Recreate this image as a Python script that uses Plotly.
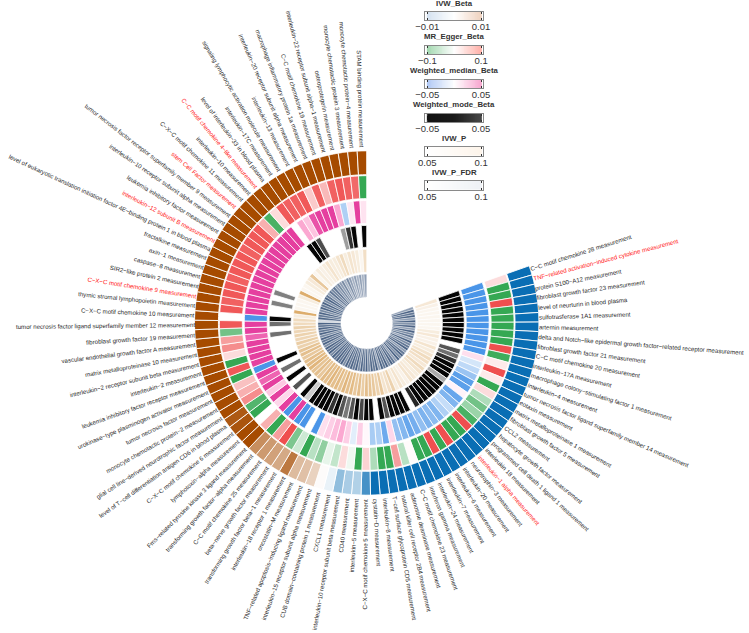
import math
import numpy as np
import plotly.graph_objects as go

W, H = 749, 633
CX, CY = 365, 323
N_ = None

labels = [
"C−C motif chemokine 28 measurement","TNF−related activation−induced cytokine measurement","protein S100−A12 measurement",
"fibroblast growth factor 23 measurement","level of neurturin in blood plasma","sulfotrasferase 1A1 measurement","artemin measurement",
"delta and Notch−like epidermal growth factor−related receptor measurement","fibroblast growth factor 21 measurement",
"C−C motif chemokine 20 measurement","interleukin−17A measurement","macrophage colony−stimulating factor 1 measurement",
"interleukin−4 measurement","tumor necrosis factor ligand superfamily member 14 measurement","eotaxin measurement",
"matrix metalloproteinase 1 measurement","fibroblast growth factor 5 measurement","CCL2 measurement","hepatocyte growth factor measurement",
"programmed cell death 1 ligand 1 measurement","interleukin 18 measurement","interleukin−1 alpha measurement","neurotrophin−3 measurement",
"interleukin−20 measurement","interleukin−6 measurement","interleukin−7 measurement","interleukin−24 measurement","interferon gamma measurement",
"C−C motif chemokine 23 measurement","adenosine deaminase measurement","natural killer cell receptor 2B4 measurement",
"T−cell surface glycoprotein CD5 measurement","interleukin−8 measurement","cystatin−D measurement","C−X−C motif chemokine 5 measurement",
"interleukin−5 measurement","CD40 measurement","interleukin−10 receptor subunit beta measurement","CXCL1 measurement",
"CUB domain−containing protein 1 measurement","interleukin−15 receptor subunit alpha measurement","TNF−related apoptosis−inducing ligand measurement",
"oncostatin−M measurement","interleukin−18 receptor 1 measurement","transforming growth factor beta−1 measurement","beta−nerve growth factor measurement",
"C−C motif chemokine 25 measurement","transforming growth factor−alpha measurement","Fms−related tyrosine kinase 3 ligand measurement",
"lymphotoxin−alpha measurement","C−X−C motif chemokine 6 measurement","level of T−cell differentiation antigen CD6 in blood plasma",
"glial cell line−derived neurotrophic factor measurement","monocyte chemotactic protein−2 measurement","tumor necrosis factor measurement",
"urokinase−type plasminogen activator measurement","leukemia inhibitory factor receptor measurement","interleukin−2 measurement",
"interleukin−2 receptor subunit beta measurement","matrix metalloproteinase 10 measurement","vascular endothelial growth factor A measurement",
"fibroblast growth factor 19 measurement","tumor necrosis factor ligand superfamily member 12 measurement","C−X−C motif chemokine 10 measurement",
"thymic stromal lymphopoietin measurement","C−X−C motif chemokine 9 measurement","SIR2−like protein 2 measurement","caspase−8 measurement",
"axin−1 measurement","fractalkine measurement","level of eukaryotic translation initiation factor 4E−binding protein 1 in blood plasma",
"interleukin−12 subunit B measurement","leukemia inhibitory factor measurement","interleukin−10 receptor subunit alpha measurement",
"tumor necrosis factor receptor superfamily member 9 measurement","stem Cell Factor measurement","C−X−C motif chemokine 11 measurement",
"interleukin−10 measurement","C−C motif chemokine 4−like measurement","level of interleukin−33 in blood plasma","interleukin−17C measurement",
"signaling lymphocytic activation molecule measurement","interleukin−13 measurement","interleukin−20 receptor subunit alpha measurement",
"macrophage inflammatory protein 1a measurement","C−C motif chemokine 19 measurement","interleukin−22 receptor subunit alpha−1 measurement",
"osteoprotegerin measurement","monocyte chemotactic protein 3 measurement","monocyte chemotactic protein−4 measurement","STAM binding protein measurement",
]
highlighted = [2, 22, 66, 72, 76, 79]

ivw_beta = [-.01]*34 + [-.0075,-.0032,-.0035,-.0045,-.0009,.0002,.0025,.0035,.0038,.0075,.0048,.0052,.0056,.0063] + [.01,.01,.0095,.0092] + [.01]*39

egger_beta = [.02,-.1,-.1,.1,-.1,-.1,-.1,-.1,-.1,.1,-.095,.012,.1,.012,-.1,.02,-.04,-.07,-.05,-.09,
 .1,-.1,-.1,.1,-.1,.1,-.1,-.1,.002,-.035,.055,-.1,-.1,-.04,.025,-.1,-.008,.02,-.03,-.012,
 -.055,-.035,-.1,-.025,-.065,.1,.055,-.1,.045,N_,-.1,-.085,.065,.045,.035,-.1,.095,-.1,.02,.065,
 .055,-.07,.095,N_,.095,.09,.095,.095,.09,.095,.095,.095,.09,.095,.095,.095,.045,-.09,.02,.095,
 .09,.09,.095,.03,.09,.04,.09,.095,.09,.085,-.1]

median_beta = [-.05]*11 + [.008,-.012,-.018,-.028,-.045,-.045,.003,-.042,-.035,-.016,-.022,-.035,-.032,-.036,-.03,-.038,-.042,-.034,-.03,
 .01,-.04,-.022,-.024,.002,.012,-.008,.012,.022,.017,.012,.008,-.05,N_,-.05,-.05,.05,-.05,.05,.01,
 .05,.014,.05,.04,.05,-.05,.05,.05,.05,.05,.04,.05,.05,-.05,.05,.05,.05,.05,.05,.05,
 .05,.05,.05,.05,.05,.05,.05,.05,.05,N_,.022,.015,.045,.05,.05,.05,.022,-.022,.006,.05,.007]

mode_beta = [-.048]*10 + [N_,-.017,-.006,-.03,-.048,-.048,-.048,.017,-.048,-.048,-.048,-.048,-.048,-.048,-.035,N_,-.048,-.048,-.048,-.048,
 -.017,-.048,N_,-.048,-.048,-.023,-.048,-.017,-.003,-.017,-.048,-.03,-.048,-.048,-.048,-.048,.03,-.048,N_,-.017,
 N_,-.048,N_,-.006,N_,-.048,N_,N_,N_,N_,-.006,N_,-.007,-.048,N_,N_,-.0,N_,-.0,N_,
 N_,N_,N_,N_,N_,N_,N_,N_,N_,-.048,-.048,-.02,N_,N_,N_,N_,.012,-.03,-.048,N_,-.048]

p_ivw = [.0625,.0575,.055,.055,.055,.055,.055,.055,.06,.0625,.0575,.0575,.065,.06,.065,.07,.0675,.0625,.07,.065,
 .06,.0625,.065,.0575,.06,.065,.06,.075,.0675,.065,.08,.075,.08,.0825,.085,.0775,.085,.08,.0875,.085,
 .09,.0825,.0875,.085,.09,.085,.0875,.08,.085,.0825,.09,.0875,.085,.08,.085,.0825,.075,.0775,.0725,.075,
 .0725,.075,.07,.07,.06,.095,.055,.055,.055,.06,.095,.055,.055,.06,.0625,.08,.055,.06,.0575,.06,
 .065,.06,.06,.065,.07,.06,.065,.0625,.06,.055,.0675]

p_fdr = [.075,.09,.085,.09,.075,.09,.08,.09,.075,.09,.08,.085,.075,.09,.08,.085,.09,.075,.085,.09,
 .08,.09,.075,.085,.09,.08,.09,.085,.09,.075,.09,.085,.09,.08,.09,.085,.09,.08,.09,.085,
 .09,.085,.09,.08,.09,.085,.09,.085,.09,.08,.09,.085,.09,.08,.09,.085,.09,.08,.09,.085,
 .09,.085,.09,.06,.09,.085,.09,.08,.09,.085,.09,.08,.09,.085,.075,.085,.08,.085,.075,.08,
 .075,.08,.07,.08,.075,.07,.075,.07,.075,.07,.075]

legend_names = ["IVW_Beta","MR_Egger_Beta","Weighted_median_Beta","Weighted_mode_Beta","IVW_P","IVW_P_FDR"]
legend_low = [-.01,-.1,-.05,-.05,.05,.05]
legend_high = [.01,.1,.05,.05,.1,.1]
legend_low_text = ["−0.01","−0.1","−0.05","−0.05","0.05","0.05"]
legend_high_text = ["0.01","0.1","0.05","0.05","0.1","0.1"]
legend_scales = [
 [[0,"#d5e2f1"],[.5,"#ffffff"],[1,"#efd2bf"]],
 [[0,"#a3d8b0"],[.5,"#ffffff"],[1,"#ffb0a8"]],
 [[0,"#b1c9f5"],[.5,"#ffffff"],[1,"#f8a6cf"]],
 [[0,"#111111"],[.5,"#1a1a1a"],[1,"#484848"]],
 [[0,"#ffffff"],[1,"#fdf4ea"]],
 [[0,"#ffffff"],[1,"#eef1f5"]],
]

rings = [
 (ivw_beta, 149, 173, -.01, .01, [[0,"#0a6eb4"],[.5,"#ffffff"],[1,"#a64b00"]], .9),
 (egger_beta, 125, 148, -.1, .1, [[0,"#35a853"],[.5,"#ffffff"],[1,"#ef4f4f"]], .8),
 (median_beta, 100, 123, -.05, .05, [[0,"#4a95e8"],[.5,"#ffffff"],[.75,"#fb9ccb"],[1,"#e53f9f"]], .8),
 (mode_beta, 76, 98, -.05, .05, [[0,"#000000"],[1,"#ffffff"]], .8),
 (p_ivw, 51, 74, .05, .1, [[0,"#ffffff"],[1,"#d9a45c"]], .6),
 (p_fdr, 26, 49, .05, .1, [[0,"#ffffff"],[1,"#1f3d68"]], .35),
]

n = len(labels)
START = 70.6
STEP = (360 - START) / n
theta = [START + (i + .5) * STEP for i in range(n)]

fig = go.Figure()
for vals, r0, r1, lo, hi, scale, lw in rings:
    keep = [i for i, v in enumerate(vals) if v is not None]
    fig.add_trace(go.Barpolar(
        theta=[theta[i] for i in keep], r=[r1 - r0] * len(keep), base=r0, width=STEP,
        marker=dict(color=[vals[i] for i in keep], colorscale=scale, cmin=lo, cmax=hi, showscale=False,
                    line=dict(color="#ffffff", width=lw)),
        hoverinfo="skip", showlegend=False))

annotations = []
FS = 6.1
TH = 7.0
RT = 176
for i, (t, lab) in enumerate(zip(theta, labels)):
    rad = math.radians(t)
    sx, sy = CX + RT * math.sin(rad), CY - RT * math.cos(rad)
    if t < 180:
        a = t - 90
        xa = "left"
        x = sx - TH / 2 * abs(math.sin(math.radians(a)))
        if a >= 0:
            ya, y = "top", sy - TH / 2 * math.cos(math.radians(a))
        else:
            ya, y = "bottom", sy + TH / 2 * math.cos(math.radians(a))
    else:
        a = t - 270
        xa = "right"
        x = sx + TH / 2 * abs(math.sin(math.radians(a)))
        if a < 0:
            ya, y = "top", sy - TH / 2 * math.cos(math.radians(a))
        else:
            ya, y = "bottom", sy + TH / 2 * math.cos(math.radians(a))
    annotations.append(dict(text=lab, x=x / W, y=1 - y / H, xref="paper", yref="paper", xanchor=xa, yanchor=ya,
                            textangle=a, showarrow=False, borderpad=0, borderwidth=0,
                            font=dict(family="Liberation Sans", size=FS, color="#ff2020" if i + 1 in highlighted else "#2a2a2a")))

layout_axes = {}
BAR_X0, BAR_X1 = 425, 484
TICK_X0, TICK_X1 = 427, 482
bar_tops = [11.5, 45.5, 79.5, 113.5, 147, 181]
title_y = [3, 36.5, 70.5, 104.5, 138, 172]
for k, name in enumerate(legend_names):
    ax = k + 2
    lo, hi = legend_low[k], legend_high[k]
    per_px = (hi - lo) / (TICK_X1 - TICK_X0)
    xr = [lo - (TICK_X0 - BAR_X0) * per_px, hi + (BAR_X1 - TICK_X1) * per_px]
    xs = np.linspace(lo, hi, 60)
    fig.add_trace(go.Heatmap(z=[list(xs)], x=list(xs), y=[0.5], colorscale=legend_scales[k], showscale=False,
                             zmin=lo, zmax=hi, xaxis=f"x{ax}", yaxis=f"y{ax}", hoverinfo="skip"))
    layout_axes[f"xaxis{ax}"] = dict(domain=[BAR_X0 / W, BAR_X1 / W], range=xr, anchor=f"y{ax}", tickmode="array",
        tickvals=[lo, hi], ticktext=[legend_low_text[k], legend_high_text[k]], ticks="inside", ticklen=2, tickwidth=.7,
        tickcolor="#333333", showline=True, mirror="ticks", linecolor="#8a8a8a", linewidth=1, showgrid=False, zeroline=False,
        tickfont=dict(family="Liberation Sans", size=9.5, color="#333333"), fixedrange=True, ticklabelstandoff=-2)
    layout_axes[f"yaxis{ax}"] = dict(domain=[1 - (bar_tops[k] + 8.5) / H, 1 - bar_tops[k] / H], range=[0, 1], anchor=f"x{ax}",
        showticklabels=False, ticks="", showline=True, mirror=True, linecolor="#8a8a8a", linewidth=1, showgrid=False, zeroline=False, fixedrange=True)
    annotations.append(dict(text=f"<b>{name}</b>", x=(BAR_X0 + BAR_X1) / 2 / W, y=1 - title_y[k] / H, xref="paper", yref="paper",
                            xanchor="center", yanchor="middle", showarrow=False,
                            font=dict(family="Liberation Sans", size=7.8, color="#333333")))

R = 173
RD = 176.2
fig.update_layout(
    width=W, height=H, margin=dict(l=0, r=0, t=0, b=0), paper_bgcolor="white", plot_bgcolor="white", showlegend=False,
    polar=dict(domain=dict(x=[(CX - RD) / W, (CX + RD) / W], y=[1 - (CY + RD) / H, 1 - (CY - RD) / H]),
               bgcolor="rgba(0,0,0,0)",
               radialaxis=dict(visible=False, range=[0, R]),
               angularaxis=dict(visible=False, direction="clockwise", rotation=90),
               barmode="overlay"),
    annotations=annotations, **layout_axes)
fig.write_html("out.html", config=dict(displayModeBar=False),
               post_script="document.body.style.margin='0';document.body.style.overflow='hidden';")
